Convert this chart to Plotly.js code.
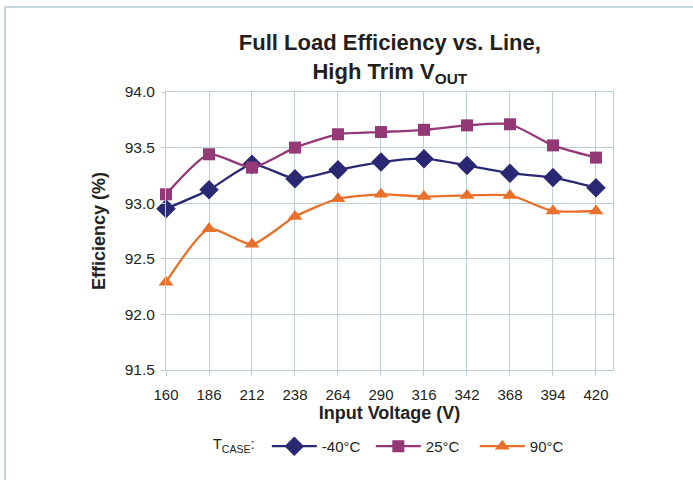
<!DOCTYPE html>
<html>
<head>
<meta charset="utf-8">
<script src="https://cdn.plot.ly/plotly-3.0.1.min.js"></script>
<style>
  html, body { margin: 0; padding: 0; background: #fff; }
  #chart { width: 693px; height: 480px; }
  #frame {
    position: absolute; left: 4px; top: 6px; right: -10px; bottom: -10px;
    border-left: 2px solid #c6d5dc; border-top: 2px solid #c6d5dc;
    pointer-events: none;
  }
</style>
</head>
<body>
<div id="chart"></div>
<div id="frame"></div>
<script>
// Input line voltage (V)
const inputVoltage = [160, 186, 212, 238, 264, 290, 316, 342, 368, 394, 420];

// Full-load efficiency (%) per case temperature
const effMinus40 = [92.95, 93.12, 93.35, 93.22, 93.30, 93.37, 93.40, 93.34, 93.27, 93.23, 93.14];
const eff25      = [93.08, 93.44, 93.32, 93.50, 93.62, 93.64, 93.66, 93.70, 93.71, 93.52, 93.41];
const eff90      = [92.29, 92.77, 92.63, 92.88, 93.04, 93.08, 93.06, 93.07, 93.07, 92.93, 92.93];

const seriesNames = ['-40°C', '25°C', '90°C'];
const yTicks = [91.5, 92.0, 92.5, 93.0, 93.5, 94.0];
const yTickText = ['91.5', '92.0', '92.5', '93.0', '93.5', '94.0'];

const gridColor = '#bccfd6';
const textColor = '#231f20';
const font = 'Arial, "Liberation Sans", sans-serif';

function trace(y, name, color, symbol, size) {
  return {
    x: inputVoltage, y: y, name: name, type: 'scatter', mode: 'lines+markers',
    line: { color: color, width: 2.3, shape: 'spline', smoothing: 0.6 },
    marker: { color: color, symbol: symbol, size: size },
    cliponaxis: false
  };
}

const data = [
  trace(effMinus40, seriesNames[0], '#2a2872', 'diamond', 15),
  trace(eff25, seriesNames[1], '#943878', 'square', 12),
  trace(eff90, seriesNames[2], '#e8702a', 'triangle-up', 13)
];

const layout = {
  width: 693, height: 480,
  margin: { l: 166, r: 80, t: 92, b: 110, autoexpand: false },
  paper_bgcolor: '#fff', plot_bgcolor: '#fff',
  font: { family: font, size: 15, color: textColor },
  title: {
    text: '<b>Full Load Efficiency vs. Line,<br>High Trim V<sub>OUT</sub></b>',
    font: { family: font, size: 22, color: textColor },
    x: 0.5625, xanchor: 'center', y: 0.895, yanchor: 'top', yref: 'container'
  },
  xaxis: {
    range: [160, 430.3], tickvals: inputVoltage, ticktext: inputVoltage.map(String),
    showgrid: true, gridcolor: gridColor, gridwidth: 1,
    showline: true, linecolor: gridColor, linewidth: 1, mirror: true,
    ticks: 'outside', ticklen: 5, tickcolor: gridColor, zeroline: false,
    tickfont: { size: 15, color: textColor }, ticklabelstandoff: 6,
    title: { text: '<b>Input Voltage (V)</b>', font: { size: 18, color: textColor }, standoff: 2 }
  },
  yaxis: {
    range: [91.5, 94.0], tickvals: yTicks, ticktext: yTickText,
    showgrid: true, gridcolor: gridColor, gridwidth: 1,
    showline: true, linecolor: gridColor, linewidth: 1, mirror: true,
    ticks: 'outside', ticklen: 4, tickcolor: gridColor, zeroline: false,
    tickfont: { size: 15.5, color: textColor }, ticklabelstandoff: 3,
    title: { text: '<b>Efficiency (%)</b>', font: { size: 18, color: textColor }, standoff: 14 }
  },
  showlegend: true,
  legend: {
    orientation: 'h', x: 0.1, xanchor: 'left', y: -0.275, yanchor: 'middle',
    font: { size: 15, color: textColor }, itemwidth: 45,
    entrywidth: 44, entrywidthmode: 'pixels',
    title: { text: 'T<sub>CASE</sub>:&nbsp;', font: { size: 15, color: textColor }, side: 'left' }
  }
};

Plotly.newPlot('chart', data, layout, { displayModeBar: false, staticPlot: true });
</script>
</body>
</html>
